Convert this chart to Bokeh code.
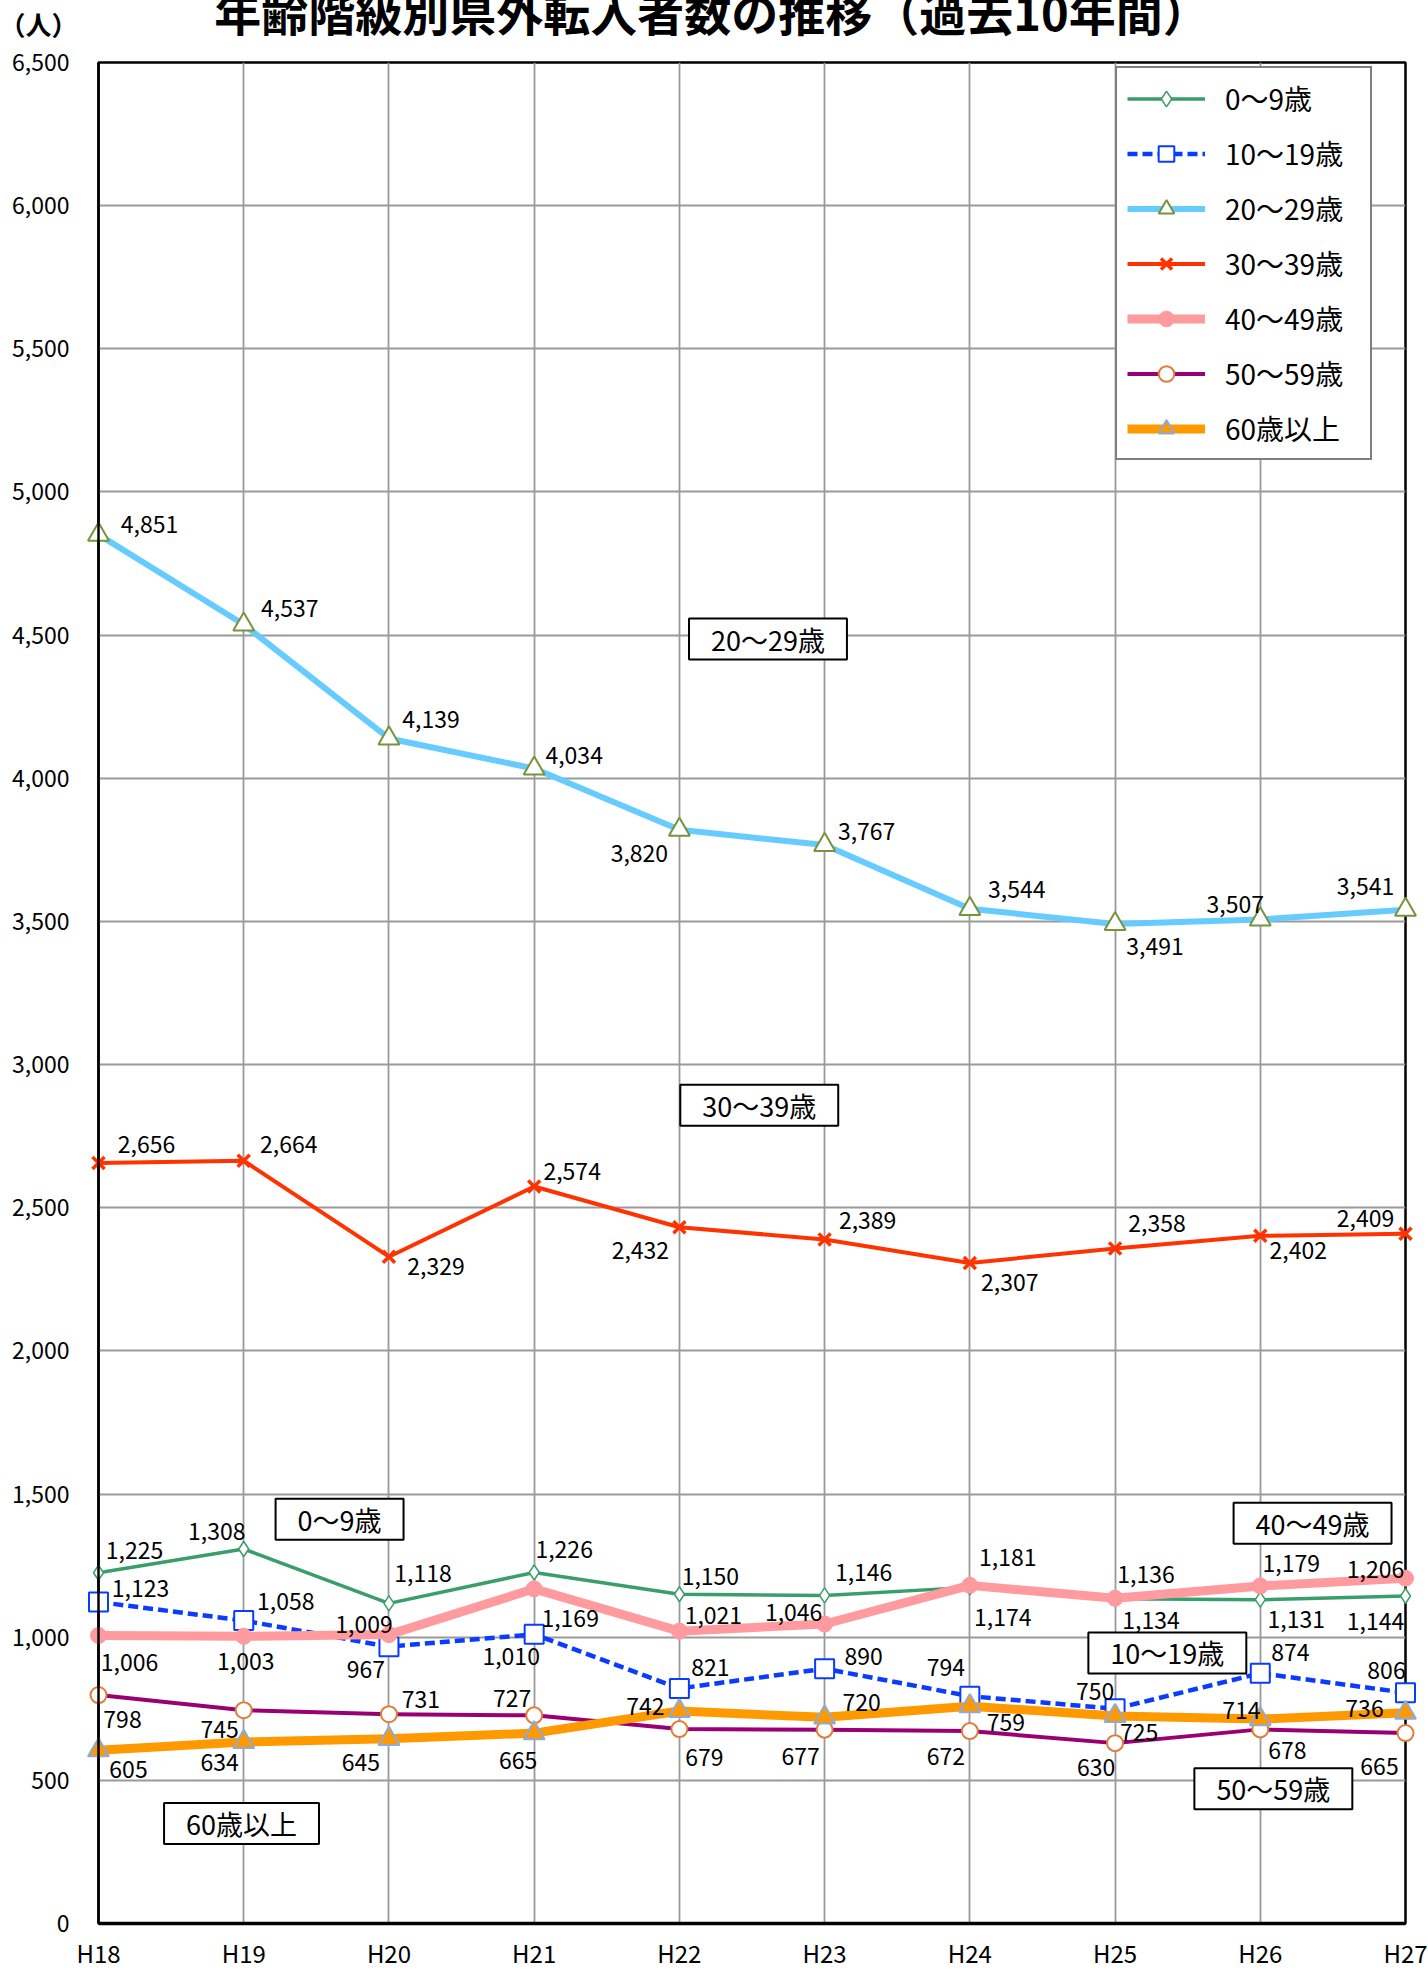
from bokeh.plotting import figure
from bokeh.models import (Range1d, Legend, LegendItem, Label, ColumnDataSource,
                          FixedTicker, NumeralTickFormatter)
from bokeh.core.properties import value
from bokeh.embed import file_html
from bokeh.resources import INLINE

# ---------------- data ----------------
years = ["H18", "H19", "H20", "H21", "H22", "H23", "H24", "H25", "H26", "H27"]
age_0_9 = [1225, 1308, 1118, 1226, 1150, 1146, 1174, 1134, 1131, 1144]
age_10_19 = [1123, 1058, 967, 1010, 821, 890, 794, 750, 874, 806]
age_20_29 = [4851, 4537, 4139, 4034, 3820, 3767, 3544, 3491, 3507, 3541]
age_30_39 = [2656, 2664, 2329, 2574, 2432, 2389, 2307, 2358, 2402, 2409]
age_40_49 = [1006, 1003, 1009, 1169, 1021, 1046, 1181, 1136, 1179, 1206]
age_50_59 = [798, 745, 731, 727, 679, 677, 672, 630, 678, 665]
age_60_plus = [605, 634, 645, 665, 742, 720, 759, 725, 714, 736]
series_names = ["0～9歳", "10～19歳", "20～29歳", "30～39歳", "40～49歳", "50～59歳", "60歳以上"]
y_ticks = [0, 500, 1000, 1500, 2000, 2500, 3000, 3500, 4000, 4500, 5000, 5500, 6000, 6500]
title_text = "年齢階級別県外転入者数の推移（過去10年間）"
unit_text = "（人）"

# ---------------- label placement (screen px, +down) ----------------
off_0_9 = [(36, -22), (-27, -18), (34, -30), (30, -23), (31, -18), (39, -23), (33, 30), (36, 22), (36, 20), (-30, 26)]
off_10_19 = [(42, -13), (42, -19), (-23, 23), (-23, 22), (31, -21), (39, -12), (-24, -29), (-20, -17), (30, -21), (-19, -22)]
off_20_29 = [(51, -10), (46, -16), (42, -19), (40, -13), (-40, 24), (42, -13), (47, -19), (40, 23), (-25, -15), (-40, -23)]
off_30_39 = [(48, -19), (45, -16), (47, 10), (38, -15), (-39, 23), (43, -19), (40, 20), (42, -25), (38, 15), (-40, -15)]
off_40_49 = [(31, 27), (2, 25), (-25, -10), (36, 30), (34, -16), (-31, -12), (38, -28), (31, -24), (31, -22), (-30, -9)]
off_50_59 = [(24, 24), (-24, 19), (32, -15), (-22, -17), (25, 28), (-24, 27), (-24, 25), (-19, 24), (27, 21), (-26, 33)]
off_60_plus = [(30, 19), (-24, 21), (-28, 24), (-16, 27), (-34, -5), (37, -15), (36, 16), (24, 17), (-19, -9), (-41, -4)]

# name boxes: (x index, y value)
box_pos = [(1.66, 1412), (7.36, 945), (4.61, 4486), (4.55, 2858), (8.36, 1398), (8.09, 471), (0.985, 349)]

JP = "Noto Sans CJK JP"

p = figure(width=1428, height=1972, output_backend="svg", toolbar_location=None,
           x_range=Range1d(0, 9), y_range=Range1d(0, 6500),
           min_border_left=98, min_border_right=23, min_border_top=62, min_border_bottom=47)
p.background_fill_color = "white"
p.border_fill_color = "white"
p.outline_line_color = "black"
p.outline_line_width = 2.5

xs = list(range(len(years)))
p.xaxis.ticker = FixedTicker(ticks=xs)
p.xaxis.major_label_overrides = {i: y for i, y in enumerate(years)}
p.yaxis.ticker = FixedTicker(ticks=y_ticks)
p.yaxis.formatter = NumeralTickFormatter(format="0,0")
for ax in (p.xaxis, p.yaxis):
    ax.major_label_text_font = JP
    ax.major_label_text_font_size = "23px"
    ax.major_label_text_color = "black"
    ax.major_tick_in = 0
    ax.major_tick_out = 0
    ax.minor_tick_in = 0
    ax.minor_tick_out = 0
    ax.axis_line_color = "black"
    ax.axis_line_width = 2.5
p.xaxis.major_label_text_font_size = "24px"
p.yaxis.major_label_standoff = 29
p.xaxis.major_label_standoff = 11
p.xaxis.axis_line_width = 3.5

p.xgrid.ticker = FixedTicker(ticks=xs)
p.ygrid.ticker = FixedTicker(ticks=y_ticks)
for g in (p.xgrid, p.ygrid):
    g.grid_line_color = "#9a9a9a"
    g.grid_line_width = 1.8

styles = [
    dict(color="#3a9e6c", lw=3.5, dash="solid", marker="diamond", size=15, fill="white", mline="#3a9e6c", mlw=1.5),
    dict(color="#0a3cff", lw=4.5, dash="10 5", marker="square", size=19, fill="white", mline="#0a3cff", mlw=2),
    dict(color="#66ccff", lw=6, dash="solid", marker="triangle", size=21, fill="white", mline="#77933c", mlw=2),
    dict(color="#ff3300", lw=4, dash="solid", marker="x", size=17, fill="#ff3300", mline="#ff3300", mlw=3.5),
    dict(color="#ff9a9e", lw=9, dash="solid", marker="circle", size=16, fill="#ff9a9e", mline="#ff9a9e", mlw=1),
    dict(color="#990073", lw=4, dash="solid", marker="circle", size=16, fill="white", mline="#e07b39", mlw=2),
    dict(color="#ff9900", lw=9, dash="solid", marker="triangle", size=21, fill="#ff9900", mline="#8eaadb", mlw=2),
]
all_series = [age_0_9, age_10_19, age_20_29, age_30_39, age_40_49, age_50_59, age_60_plus]
all_offsets = [off_0_9, off_10_19, off_20_29, off_30_39, off_40_49, off_50_59, off_60_plus]

items = []
for name, vals, st, offs in zip(series_names, all_series, styles, all_offsets):
    src = ColumnDataSource(dict(x=xs, y=vals, t=[f"{v:,}" for v in vals],
                                dx=[o[0] for o in offs], dy=[o[1] for o in offs]))
    lr = p.line("x", "y", source=src, line_color=st["color"], line_width=st["lw"],
                line_dash=st["dash"], line_join="round", level="guide")
    sr = p.scatter("x", "y", source=src, marker=st["marker"], size=st["size"],
                   fill_color=st["fill"], line_color=st["mline"], line_width=st["mlw"], level="guide")
    p.text("x", "y", text="t", source=src, x_offset="dx", y_offset="dy",
           text_font=value(JP), text_font_size="23px", text_color="black",
           text_align="center", text_baseline="middle", level="annotation")
    items.append(LegendItem(label=name, renderers=[lr, sr]))

legend = Legend(items=items, location=(1017, 1463))
legend.border_line_color = "black"
legend.border_line_width = 2
legend.background_fill_color = "white"
legend.background_fill_alpha = 1
legend.label_text_font = JP
legend.label_text_font_size = "28px"
legend.label_text_color = "black"
legend.glyph_width = 78
legend.glyph_height = 39
legend.label_height = 39
legend.label_width = 135
legend.label_standoff = 20
legend.spacing = 15
legend.padding = 10
legend.margin = 0
p.add_layout(legend)

for name, (bx, by) in zip(series_names, box_pos):
    p.add_layout(Label(x=bx, y=by, text=name, text_font=JP, text_font_size="27px",
                       text_color="black", text_align="center", text_baseline="middle",
                       border_line_color="black", border_line_width=2,
                       background_fill_color="white", padding=(22, 1)))

# title and unit: text glyphs placed above the frame (not clipped)
head = ColumnDataSource(dict(x=[4.5], y=[6500], t=[title_text]))
p.text("x", "y", text="t", source=head, x_offset=-40, y_offset=-52,
       text_font=value(JP), text_font_size="47px", text_font_style="bold",
       text_color="black", text_align="center", text_baseline="alphabetic", level="overlay")
unit = ColumnDataSource(dict(x=[0], y=[6500], t=[unit_text]))
p.text("x", "y", text="t", source=unit, x_offset=-60, y_offset=-39,
       text_font=value(JP), text_font_size="26px", text_font_style="bold",
       text_color="black", text_align="center", text_baseline="middle", level="overlay")

open("out.html", "w").write(file_html(p, INLINE))
